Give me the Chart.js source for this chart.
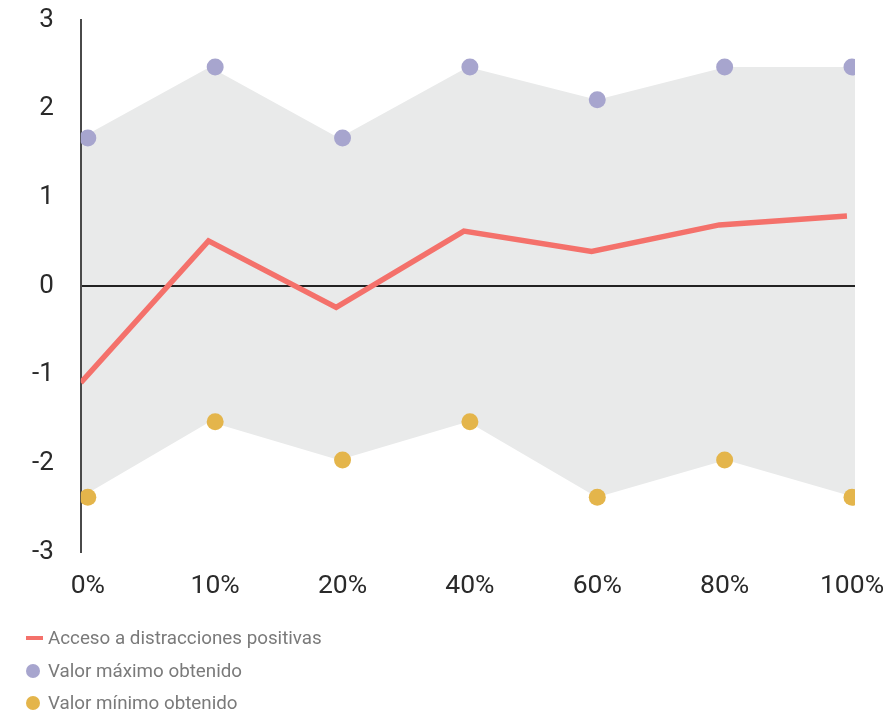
<!DOCTYPE html>
<html>
<head>
<meta charset="utf-8">
<script src="https://cdn.jsdelivr.net/npm/chart.js@4/dist/chart.umd.min.js"></script>
<style>
  html, body { margin: 0; padding: 0; background: #ffffff; }
  #wrap { position: relative; width: 887px; height: 716px; }
  #c { position: absolute; left: 0; top: 0; }
  #legend { position: absolute; left: 26px; top: 622px; font-family: Roboto, sans-serif; font-size: 18.8px; color: #7a7a7a; }
  .item { display: flex; align-items: center; height: 32.5px; }
  .sw-line { width: 17px; height: 4px; margin-right: 5px; }
  .sw-dot { width: 14px; height: 14px; border-radius: 50%; margin-right: 8px; }
</style>
</head>
<body>
<div id="wrap">
  <canvas id="c" width="887" height="716"></canvas>
  <div id="legend"></div>
</div>
<script>
// ---- data ----
const categories = ['0%', '10%', '20%', '40%', '60%', '80%', '100%'];
const lineValues = [-1.09, 0.51, -0.24, 0.62, 0.39, 0.69, 0.79];
const maxValues  = [1.67, 2.47, 1.67, 2.47, 2.10, 2.47, 2.47];
const minValues  = [-2.38, -1.53, -1.96, -1.53, -2.38, -1.96, -2.38];
const yTicks = [-3, -2, -1, 0, 1, 2, 3];
const seriesNames = ['Acceso a distracciones positivas', 'Valor máximo obtenido', 'Valor mínimo obtenido'];

// ---- styles ----
const RED = '#F4716B';
const PURPLE = '#A7A5CE';
const YELLOW = '#E4B54B';
const BAND = '#E9EAEA';

const pts = arr => arr.map((v, i) => ({ x: i, y: v }));

const chart = new Chart(document.getElementById('c'), {
  type: 'line',
  data: {
    datasets: [
      { label: seriesNames[1], data: pts(maxValues), xAxisID: 'x', showLine: false,
        pointRadius: 8.5, pointBackgroundColor: PURPLE, pointBorderWidth: 0, borderColor: PURPLE, backgroundColor: PURPLE },
      { label: seriesNames[2], data: pts(minValues), xAxisID: 'x', showLine: false,
        pointRadius: 8.5, pointBackgroundColor: YELLOW, pointBorderWidth: 0, borderColor: YELLOW, backgroundColor: YELLOW },
      { label: seriesNames[0], data: pts(lineValues), xAxisID: 'xLine', borderColor: RED, borderWidth: 5.5,
        pointRadius: 0, tension: 0, fill: false, backgroundColor: RED, borderJoinStyle: 'miter' },
      { label: 'bandTop', data: pts(maxValues), xAxisID: 'xFill', borderWidth: 0, pointRadius: 0,
        fill: '+1', backgroundColor: BAND, borderColor: 'rgba(0,0,0,0)' },
      { label: 'bandBottom', data: pts(minValues), xAxisID: 'xFill', borderWidth: 0, pointRadius: 0,
        fill: false, backgroundColor: BAND, borderColor: 'rgba(0,0,0,0)' }
    ]
  },
  options: {
    responsive: false,
    animation: false,
    devicePixelRatio: 1,
    layout: { autoPadding: false, padding: { left: 5, top: 20, right: 32, bottom: 96 } },
    plugins: {
      legend: { display: false },
      tooltip: { enabled: false },
      filler: { drawTime: 'beforeDraw' }
    },
    scales: {
      x: {
        type: 'linear', min: -0.055, max: 6.0235,
        grid: { display: false, drawTicks: false },
        border: { display: false },
        afterFit: s => { s.paddingRight = 0; s.paddingLeft = 0; },
        ticks: {
          stepSize: 1, includeBounds: false, autoSkip: false, maxRotation: 0,
          padding: 18, color: '#2a2a2a', font: { family: 'Roboto', size: 26.5 },
          callback: v => (Number.isInteger(v) && categories[v] !== undefined) ? categories[v] : ''
        }
      },
      xLine: { type: 'linear', display: false, min: 0, max: 6.063 },
      xFill: { type: 'linear', display: false, min: 0, max: 6 },
      y: {
        type: 'linear', min: yTicks[0], max: yTicks[yTicks.length - 1],
        border: { display: true, color: '#4a4a4a', width: 2 },
        grid: {
          drawTicks: false, lineWidth: 2,
          color: c => (c.tick && c.tick.value === 0) ? '#222222' : 'rgba(0,0,0,0)'
        },
        afterBuildTicks: s => { s.ticks = yTicks.map(v => ({ value: v })); },
        afterFit: s => { s.paddingTop = 0; s.paddingBottom = 0; },
        ticks: { padding: 27, color: '#2a2a2a', font: { family: 'Roboto', size: 26 } }
      }
    }
  }
});

// HTML legend built from the chart datasets
const legendEl = document.getElementById('legend');
const order = [2, 0, 1];
order.forEach((idx, k) => {
  const ds = chart.data.datasets[idx];
  const row = document.createElement('div');
  row.className = 'item';
  const sw = document.createElement('span');
  sw.className = k === 0 ? 'sw-line' : 'sw-dot';
  sw.style.background = k === 0 ? ds.borderColor : ds.pointBackgroundColor;
  const tx = document.createElement('span');
  tx.textContent = ds.label;
  row.appendChild(sw);
  row.appendChild(tx);
  legendEl.appendChild(row);
});
</script>
</body>
</html>
